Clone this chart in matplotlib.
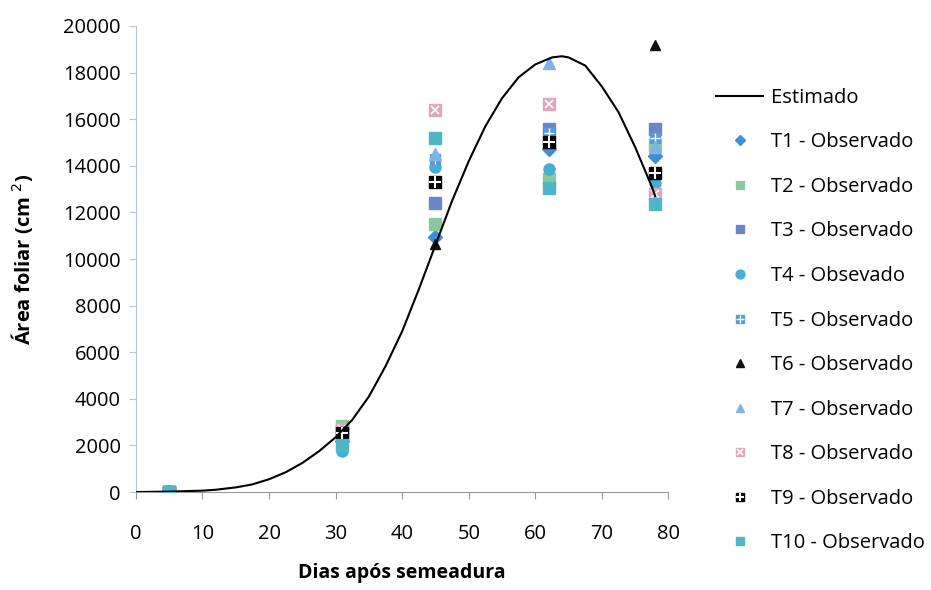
import matplotlib.pyplot as plt
from matplotlib.legend_handler import HandlerTuple

plt.rcParams["font.family"] = ["Open Sans", "DejaVu Sans"]

# curva estimada
dias_est = [0, 5, 10, 12, 15, 17.5, 20, 22.5, 25, 27.5, 30, 32.5, 35, 37.5, 40, 42.5,
            45, 47.5, 50, 52.5, 55, 57.5, 60, 62.5, 64, 65, 67.5, 70, 72.5, 75, 77.5, 78]
area_est = [0, 20, 60, 100, 200, 330, 550, 850, 1250, 1750, 2350, 3100, 4100, 5400, 6900, 8700,
            10600, 12500, 14200, 15700, 16900, 17800, 18350, 18650, 18700, 18650, 18300, 17400,
            16300, 14800, 13100, 12700]

# observados
dias_obs = [5, 31, 45, 62, 78]
t1 = [0, 2200, 10950, 14700, 14400]
t2 = [0, 2850, 11500, 13450, 14900]
t3 = [0, 2600, 12400, 15600, 15600]
t4 = [0, 1750, 13950, 13850, 13250]
t5 = [0, 2400, 14300, 15400, 15200]
t6 = [0, 2500, 10650, 15000, 19200]
t7 = [0, 2300, 14500, 18400, 14800]
t8 = [0, 2700, 16400, 16650, 12800]
t9 = [0, 2550, 13300, 15000, 13700]
t10 = [0, 2000, 15200, 13050, 12350]

fig = plt.figure(figsize=(9.31, 5.9), dpi=100)
ax = fig.add_axes([0.146, 0.166, 0.572, 0.79])

est, = ax.plot(dias_est, area_est, color="black", lw=1.5, zorder=5)

h1, = ax.plot(dias_obs, t1, "D", color="#3d8fd6", ms=7, ls="none", zorder=3)
h2, = ax.plot(dias_obs, t2, "s", color="#8cc7a2", ms=8, ls="none", zorder=3)
h3, = ax.plot(dias_obs, t3, "s", color="#6a86c8", ms=8, ls="none", zorder=3)
h4, = ax.plot(dias_obs, t4, "o", color="#45aed2", ms=8, ls="none", zorder=3)
h5, = ax.plot(dias_obs, t5, "s", color="#5b9bd5", ms=7, ls="none", zorder=3)
h5b, = ax.plot(dias_obs, t5, "+", color="white", ms=7, mew=1, ls="none", zorder=3)
h6, = ax.plot(dias_obs, t6, "^", color="#111111", ms=7, ls="none", zorder=3)
h7, = ax.plot(dias_obs, t7, "^", color="#7fb3e8", ms=8, ls="none", zorder=3)
h8, = ax.plot(dias_obs, t8, "s", color="#e0a6bd", ms=8, ls="none", zorder=3)
h8b, = ax.plot(dias_obs, t8, "x", color="white", ms=6, mew=1.2, ls="none", zorder=3)
h9, = ax.plot(dias_obs, t9, "s", color="black", ms=8, ls="none", zorder=3)
h9b, = ax.plot(dias_obs, t9, "+", color="white", ms=8, mew=1.5, ls="none", zorder=3)
h10, = ax.plot(dias_obs, t10, "s", color="#4fb6c9", ms=8, ls="none", zorder=3)

ax.set_xlim(0, 80)
ax.set_ylim(0, 20000)
ax.set_xticks(range(0, 81, 10))
ax.set_yticks(range(0, 20001, 2000))

for s in ["top", "right"]:
    ax.spines[s].set_visible(False)
ax.spines["left"].set_color("#b8c4d6")
ax.spines["bottom"].set_color("#9a9a9a")
ax.tick_params(axis="x", direction="out", length=5, color="#9a9a9a", pad=18, labelsize=14.5)
ax.tick_params(axis="y", direction="out", length=5, color="#b8c4d6", pad=6, labelsize=14.5)

ax.set_xlabel("Dias após semeadura", fontsize=14, fontweight="bold", labelpad=14)
ax.set_ylabel("Área foliar (cm $^2$)", fontsize=14.5, fontweight="bold", labelpad=20)

handles = [est, h1, h2, h3, h4, (h5, h5b), h6, h7, (h8, h8b), (h9, h9b), h10]
labels = ["Estimado", "T1 - Observado", "T2 - Observado", "T3 - Observado", "T4 - Obsevado",
          "T5 - Observado", "T6 - Observado", "T7 - Observado", "T8 - Observado",
          "T9 - Observado", "T10 - Observado"]
fig.legend(handles, labels, loc="upper left", bbox_to_anchor=(0.750, 0.882), frameon=False,
           fontsize=14.5, labelspacing=1.22, handlelength=2.3, handletextpad=0.4,
           markerscale=0.8,
           handler_map={tuple: HandlerTuple(ndivide=1, pad=0)})

fig.savefig("out.png", dpi=100)
